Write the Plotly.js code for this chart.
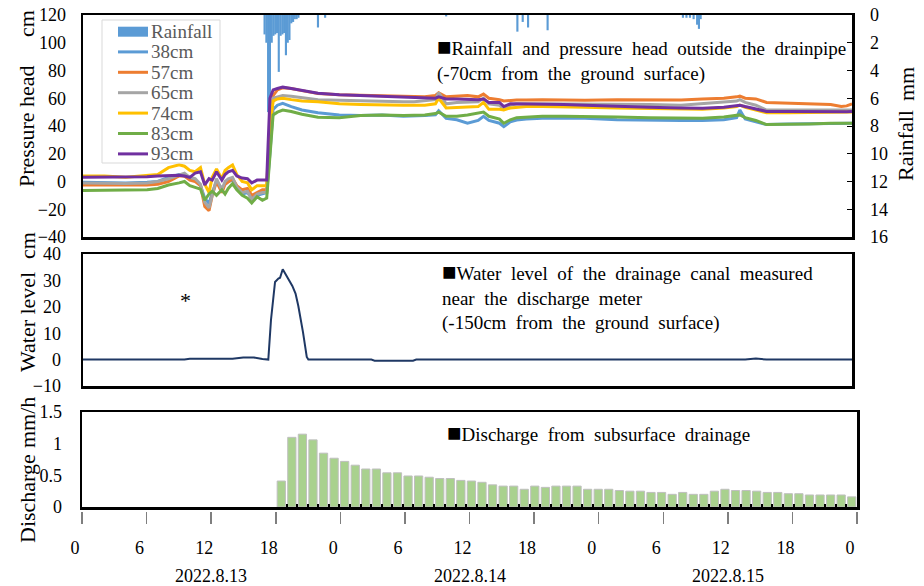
<!DOCTYPE html>
<html><head><meta charset="utf-8">
<script src="https://cdn.plot.ly/plotly-3.0.1.min.js"></script>
<style>html,body{margin:0;padding:0;background:#fff;}#chart{width:924px;height:586px;}</style>
</head><body><div id="chart"></div>
<script>
// ---------- DATA ----------
// hours since 2022.8.13 0:00
const hours = [0,2,4,6,7,8,9,9.5,10,10.5,
  11,11.4,11.8,12.1,12.5,13,13.3,13.6,14,14.4,
  14.9,15.4,15.8,16.3,16.8,17.2,17.5,17.8,18.2,18.7,
  19.5,20.5,22,24,26,28,30,31,32,33,
  33.3,34,35,36,37,37.5,38,39,39.4,40,
  40.6,41.5,43,45,47,50,53,56,58,60,
  61.2,61.5,62,63,64,66,68,70,71,71.5,
  72];
const p38 = [-0.5,-1,-1,-0.5,0,3,5,4,2,1,
  -3,-12,-16,-8,0,-5,-2,0,1,-5,
  -9,-8,-12,-10,-9,-8,20,52,55,56.4,
  54,51.5,49.5,48,47.5,48,47,47,47.5,48,
  51,45.5,44.5,42,44,47,44,42,39.5,43,
  44.3,45,45.5,45.5,45.5,44.5,44,44,44,44.5,
  46,51.5,45,43,41,41.5,41.5,42,42,42,
  42];
const p57 = [-2.5,-2.5,-3,-2.5,-2,0,4,4,1,0,
  -3,-18,-21,-10,0,-8,-2,0,2,-3,
  -6,-5,-10,-8,-6,-6,35,62,66,67.5,
  67,65.5,63.5,62.5,62,61.5,61,61,61,62,
  64,61,61.5,62,61,63,60,59,58,58.5,
  58.7,58.7,59,58.7,58.5,59,59,58.7,59.5,60,
  61,61.5,60,59.5,57,56.5,56,55.5,54,54.5,
  56];
const p65 = [-1,-1.5,-1.5,-1,0,2,5,6,3,2,
  -2,-15,-19,-10,2,-6,0,2,3,-4,
  -8,-7,-13,-9,-8,-8,35,60,61,62,
  61.5,60.5,59,58.5,58,57.5,57.5,57.5,58,59,
  64,56,57,57,57.5,60,56,55,52,55,
  56,56,56,56,56,55.5,55.5,55,56,57,
  58,59,57,55,51.5,51.5,51.5,51.5,51.5,51.5,
  51.5];
const p74 = [4,4,3,4,5,10,12,11,8,7,
  10,-2,-8,3,9,2,8,10,12,5,
  0,-1,-6,-3,-3,-3,40,58,59.5,60,
  59,58,57.5,56,55.5,55,55,55,55,56,
  60,53,53.5,53.5,54,57,52,52,51.5,53,
  53.3,54,54,54,53.5,53,52.5,52,52,53,
  54,55,53.5,51.5,49.5,49.5,49.5,49.5,49.5,49.5,
  50];
const p83 = [-6.5,-6.5,-6,-6,-5,-2.5,-1,0,-3,-4,
  -5.5,-13.5,-9,-7,-10,-6,-9,-5,-1.5,-6,
  -10,-12,-15.5,-11,-13.5,-12,20,48,50,51.5,
  50.5,48.5,46.3,46,47.5,48,47.5,47.5,48,49,
  50,47,47,48,49,50,47,45,42,44.5,
  46,46.5,47,47,47,46.5,46,45.5,45.5,46.5,
  47.5,48,46,44,41,41,41.5,42,42,42,
  42];
const p93 = [3,3,3.5,3.5,4,4.5,4.5,4,3,6,
  7,-2.5,2,1,7,1,5,7,8,4,
  2.5,2,-1,1,1,1,60,66,67,68,
  67,65.5,63.6,62.5,62,61.5,61,60.5,60.5,60,
  61,59.5,59.5,59,59,59.5,57,57,54,56,
  56,56,56,55.5,55,54,53.5,53,52.8,53.5,
  54.5,55,54,52.5,50.5,50.5,50.3,50.3,50.3,50.3,
  50.5];

const rainHours = [17.0,17.17,17.33,17.5,17.67,17.83,18.0,18.17,18.33,18.5,
  18.67,18.83,19.0,19.17,19.33,19.5,19.67,19.83,20.0,20.17,
  22.0,22.67,34.0,40.67,41.17,41.67,43.5,56.17,56.5,56.83,
  57.17,57.5,57.67,57.83];
const rainMm = [1.4,2.0,7.0,6.0,2.0,1.5,1.4,1.3,4.1,1.5,
  1.4,1.3,2.9,2.0,1.8,0.6,0.5,0.3,0.3,0.2,
  0.9,0.2,0.1,1.2,0.5,0.9,1.1,0.2,0.2,0.2,
  0.3,0.7,1.0,0.3];

const wlHours = [0,9.5,10,14,15,15.5,16,16.8,17.35,17.6,17.98,18.29,18.45,18.7,19.07,19.3,19.6,19.9,20.16,20.6,20.95,21.1,27,27.3,30.9,31.2,62,63,64,72];
const wlCm = [0,0,0.3,0.3,0.8,0.9,0.8,0.2,0,15,29.4,30.7,31,34.2,31.6,30,27.9,25,20.3,10.3,1,0,0,-0.4,-0.4,0,0,0.4,0,0];

const dischargeHours = [18,19,20,21,22,23,24,25,26,27,28,29,30,31,32,33,34,35,36,37,38,39,40,41,42,43,44,45,46,47,48,49,50,51,52,53,54,55,56,57,58,59,60,61,62,63,64,65,66,67,68,69,70,71,72];
const discharge = [0.41,1.10,1.15,1.06,0.85,0.77,0.72,0.66,0.60,0.60,
  0.54,0.54,0.49,0.49,0.47,0.45,0.45,0.42,0.41,0.39,
  0.35,0.33,0.33,0.28,0.33,0.31,0.33,0.33,0.33,0.28,
  0.28,0.28,0.26,0.25,0.25,0.23,0.23,0.20,0.23,0.20,
  0.20,0.25,0.28,0.26,0.26,0.25,0.23,0.23,0.21,0.21,
  0.19,0.19,0.19,0.19,0.16];

const xTickVals = [0,6,12,18,24,30,36,42,48,54,60,66,72];
const xTickText = ['0','6','12','18','0','6','12','18','0','6','12','18','0'];
const dateLabels = ['2022.8.13','2022.8.14','2022.8.15'];
const dateHours = [12,36,60];

const seriesNames = ['38cm','57cm','65cm','74cm','83cm','93cm'];
const seriesValues = [p38,p57,p65,p74,p83,p93];
const seriesColors = ['#5B9BD5','#ED7D31','#A5A5A5','#FFC000','#70AD47','#7030A0'];
const rainColor = '#5B9BD5';

// ---------- LAYOUT HELPERS ----------
const W = 924, H = 586;
const PX = x => x / W;
const PY = y => 1 - y / H;
const FONT = '"Liberation Serif", "Times New Roman", Times, serif';
const wide = s => s.split(' ').join('\u00a0 ');
const SQ = '<span style="font-size:24px">■</span>';

const traces = [];
traces.push({type:'bar', x:rainHours, y:rainMm, xaxis:'x', yaxis:'y', width:0.2,
  marker:{color:rainColor, line:{width:0}}, name:'Rainfall', hoverinfo:'skip'});
seriesNames.forEach((n,i)=>{
  traces.push({type:'scatter', mode:'lines', x:hours, y:seriesValues[i], xaxis:'x', yaxis:'y2',
    name:n, line:{color:seriesColors[i], width:3}, hoverinfo:'skip'});
});
traces.push({type:'scatter', mode:'lines', x:wlHours, y:wlCm, xaxis:'x2', yaxis:'y3',
  line:{color:'#1F3864', width:2}, hoverinfo:'skip'});
traces.push({type:'bar', x:dischargeHours, y:discharge, xaxis:'x4', yaxis:'y4', width:0.78,
  marker:{color:'#A9D18E', line:{color:'#BFBFBF', width:1}}, hoverinfo:'skip'});
traces.push({type:'scatter', mode:'lines', x:[0,72], y:[null,null], xaxis:'x5', yaxis:'y4', hoverinfo:'skip'});
traces.push({type:'scatter', mode:'lines', x:[0,72], y:[null,null], xaxis:'x6', yaxis:'y4', hoverinfo:'skip'});

const frame = {showline:true, mirror:true, linecolor:'#000', linewidth:2.5, showgrid:false, zeroline:false};
const noTicks = {ticks:'', showticklabels:false};

const layout = {
  width:W, height:H, margin:{l:0,r:0,t:0,b:0},
  paper_bgcolor:'#fff', plot_bgcolor:'rgba(0,0,0,0)',
  showlegend:false, font:{family:FONT, size:18, color:'#000'},
  barmode:'overlay',
  xaxis:Object.assign({domain:[PX(83),PX(852)], anchor:'y', range:[0,72]}, frame, noTicks),
  yaxis:Object.assign({domain:[PY(237),PY(15)], anchor:'x', side:'right', range:[16,0],
    tickvals:[0,2,4,6,8,10,12,14,16], ticks:'inside', ticklen:5, tickcolor:'#000', tickwidth:1,
    ticklabelstandoff:12, tickfont:{family:FONT, size:18}}, frame),
  yaxis2:{overlaying:'y', anchor:'x', side:'left', range:[-40,120],
    tickvals:[-40,-20,0,20,40,60,80,100,120], ticks:'', showgrid:false, zeroline:false, showline:false,
    ticklabelstandoff:16, tickfont:{family:FONT, size:18}},
  xaxis2:Object.assign({domain:[PX(83),PX(852)], anchor:'y3', range:[0,72]}, frame, noTicks),
  yaxis3:Object.assign({domain:[PY(386),PY(254)], anchor:'x2', range:[-10,40],
    tickvals:[-10,0,10,20,30,40], ticks:'', ticklabelstandoff:16, tickfont:{family:FONT, size:18}}, frame),
  xaxis3:Object.assign({domain:[PX(82),PX(857)], anchor:'y4', range:[0,72]}, frame, noTicks),
  yaxis4:Object.assign({domain:[PY(507),PY(412)], anchor:'x3', range:[0,1.5],
    tickvals:[0,0.5,1,1.5], ticktext:['0','0.5','1','1.5'], ticks:'', ticklabelstandoff:14, tickfont:{family:FONT, size:18}}, frame),
  xaxis4:{domain:[PX(276),PX(857)], anchor:'y4', range:[17.5,72.5], showline:false, showgrid:false, zeroline:false,
    tickvals:dischargeHours.map(h=>h+0.5), ticks:'inside', ticklen:3, tickwidth:2, tickcolor:'#000', showticklabels:false},
  xaxis5:{domain:[PX(82),PX(857)], anchor:'free', position:PY(511), range:[0,72], showline:false, showgrid:false, zeroline:false,
    tickvals:xTickVals, ticks:'outside', ticklen:12, tickwidth:1.5, tickcolor:'#7F7F7F', showticklabels:false},
  xaxis6:{domain:[PX(75),PX(850)], anchor:'free', position:PY(511), range:[0,72], showline:false, showgrid:false, zeroline:false,
    tickvals:xTickVals, ticktext:xTickText, ticks:'outside', ticklen:20, tickcolor:'rgba(0,0,0,0)', tickfont:{family:FONT, size:18}},
  annotations:[], shapes:[]
};

const A = layout.annotations, S = layout.shapes;
function rot(text, x, y){ A.push({text, x:PX(x), y:PY(y), xref:'paper', yref:'paper', textangle:-90, showarrow:false,
  xanchor:'center', yanchor:'middle', font:{family:FONT, size:22}}); }
rot('Pressure head', 27, 126); rot('cm', 27, 24);
rot('Water level', 27, 322); rot('cm', 27, 246);
rot('Discharge', 27, 499); rot('mm/h', 27, 423);
rot('Rainfall', 906, 146); rot('mm', 906, 84);

function txt(text, x, y, size){ A.push({text, x:PX(x), y:PY(y), xref:'paper', yref:'paper', showarrow:false,
  xanchor:'left', yanchor:'middle', align:'left', font:{family:FONT, size:size||19}}); }
txt(SQ+wide('Rainfall and pressure head outside the drainpipe')+'<br>'+wide('(-70cm from the ground surface)'), 435, 60);
txt(SQ+wide('Water level of the drainage canal measured')+'<br>'+wide('near the discharge meter')+'<br>'+wide('(-150cm from the ground surface)'), 440, 296);
txt(SQ+wide('Discharge from subsurface drainage'), 445, 433);
A.push({text:'*', x:PX(178), y:PY(300), xref:'paper', yref:'paper', showarrow:false, font:{family:FONT, size:22}});

dateLabels.forEach((d,i)=>{
  A.push({text:d, x:dateHours[i], xref:'x3', y:PY(576), yref:'paper', showarrow:false, xanchor:'center', yanchor:'middle', font:{family:FONT, size:18}});
});

// legend (manual, Excel-like)
S.push({type:'rect', xref:'paper', yref:'paper', x0:PX(102), x1:PX(220), y0:PY(163), y1:PY(20),
  line:{color:'#D9D9D9', width:1}, fillcolor:'#fff', layer:'above'});
const legY = [31.7, 51.9, 72.3, 92.7, 113.1, 133.5, 153.9];
S.push({type:'rect', xref:'paper', yref:'paper', x0:PX(118), x1:PX(148), y0:PY(legY[0]+5), y1:PY(legY[0]-5),
  line:{width:0}, fillcolor:rainColor, layer:'above'});
const legNames = ['Rainfall'].concat(seriesNames);
seriesNames.forEach((n,i)=>{
  S.push({type:'line', xref:'paper', yref:'paper', x0:PX(118), x1:PX(148), y0:PY(legY[i+1]), y1:PY(legY[i+1]),
    line:{color:seriesColors[i], width:3}, layer:'above'});
});
legNames.forEach((n,i)=>{
  A.push({text:n, x:PX(149), y:PY(legY[i]), xref:'paper', yref:'paper', showarrow:false, xanchor:'left', yanchor:'middle',
    font:{family:FONT, size:19, color:'#595959'}});
});

Plotly.newPlot('chart', traces, layout, {staticPlot:true, displayModeBar:false});
</script>
</body></html>
